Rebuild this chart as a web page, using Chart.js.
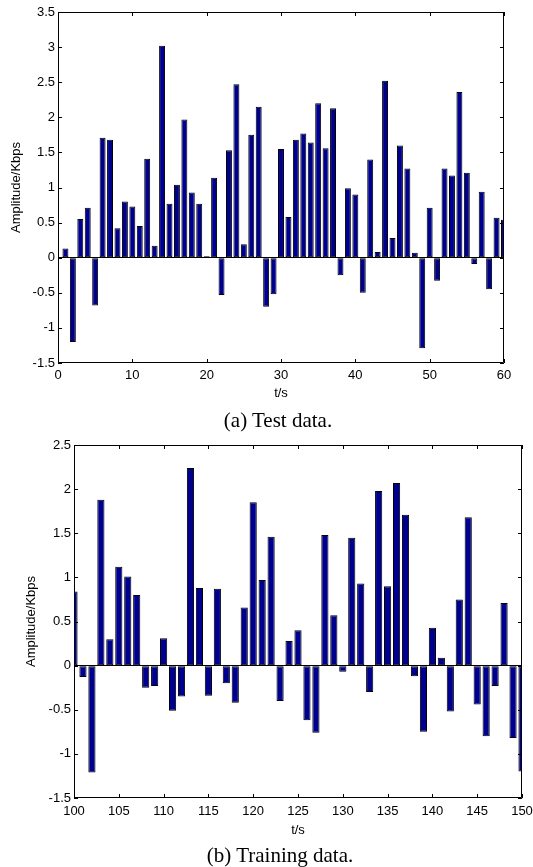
<!DOCTYPE html>
<html>
<head>
<meta charset="utf-8">
<script src="https://cdn.jsdelivr.net/npm/chart.js@4.4.1/dist/chart.umd.min.js"></script>
<style>
  body { margin: 0; background: #fff; width: 533px; height: 867px; position: relative; overflow: hidden; }
  canvas { position: absolute; left: 0; }
  #testChart { top: 0; }
  #trainChart { top: 430px; }
  .caption { position: absolute; font-family: "Liberation Serif", "Times New Roman", serif; font-size: 21px; color: #000; white-space: nowrap; transform: translate(-50%, -50%); }
</style>
</head>
<body>
<canvas id="testChart" width="533" height="410"></canvas>
<canvas id="trainChart" width="533" height="420"></canvas>
<div class="caption" style="left:278px; top:420px;">(a) Test data.</div>
<div class="caption" style="left:280px; top:855px;">(b) Training data.</div>
<script>
// (a) test data, t = 1..60
let testT = [1,2,3,4,5,6,7,8,9,10,11,12,13,14,15,16,17,18,19,20,
             21,22,23,24,25,26,27,28,29,30,31,32,33,34,35,36,37,38,39,40,
             41,42,43,44,45,46,47,48,49,50,51,52,53,54,55,56,57,58,59,60];
let testAmp = [0.13,-1.20,0.55,0.71,-0.68,1.71,1.68,0.42,0.80,0.73,
               0.45,1.41,0.17,3.02,0.77,1.04,1.97,0.93,0.77,0.02,
               1.14,-0.53,1.53,2.47,0.19,1.75,2.15,-0.70,-0.52,1.55,
               0.58,1.68,1.77,1.64,2.20,1.56,2.13,-0.25,0.99,0.90,
               -0.50,1.40,0.08,2.52,0.28,1.60,1.27,0.07,-1.29,0.71,
               -0.33,1.27,1.17,2.36,1.21,-0.09,0.94,-0.45,0.57,0.54];

// (b) training data, t = 100..150
let trainT = [100,101,102,103,104,105,106,107,108,109,110,111,112,113,114,115,116,117,118,119,
              120,121,122,123,124,125,126,127,128,129,130,131,132,133,134,135,136,137,138,139,
              140,141,142,143,144,145,146,147,148,149,150];
let trainAmp = [0.84,-0.13,-1.21,1.88,0.30,1.12,1.01,0.80,-0.25,-0.23,
                0.31,-0.51,-0.35,2.24,0.88,-0.34,0.87,-0.20,-0.42,0.66,
                1.85,0.97,1.46,-0.40,0.28,0.40,-0.62,-0.76,1.48,0.57,
                -0.07,1.45,0.93,-0.30,1.98,0.90,2.07,1.71,-0.12,-0.75,
                0.43,0.09,-0.52,0.75,1.68,-0.44,-0.80,-0.23,0.71,-0.82,-1.20];

Chart.defaults.font.family = '"Liberation Sans", Arial, sans-serif';
Chart.defaults.font.size = 13;
Chart.defaults.color = '#000';

// matlab style box with inward ticks
const boxTicks = {
  id: 'boxTicks',
  afterDatasetsDraw(chart) {
    const ctx = chart.ctx;
    const a = chart.chartArea;
    const x = chart.scales.x, y = chart.scales.y;
    ctx.save();
    ctx.strokeStyle = '#000';
    ctx.lineWidth = 1;
    ctx.beginPath();
    x.ticks.forEach(t => {
      let px = Math.round(x.getPixelForValue(t.value)) + 0.5;
      ctx.moveTo(px, a.top); ctx.lineTo(px, a.top + 4);
      ctx.moveTo(px, a.bottom); ctx.lineTo(px, a.bottom - 4);
    });
    y.ticks.forEach(t => {
      let py = Math.round(y.getPixelForValue(t.value)) + 0.5;
      ctx.moveTo(a.left, py); ctx.lineTo(a.left + 4, py);
      ctx.moveTo(a.right, py); ctx.lineTo(a.right - 4, py);
    });
    ctx.rect(Math.round(a.left) + 0.5, Math.round(a.top) + 0.5,
             Math.round(a.right - a.left) - 1, Math.round(a.bottom - a.top) - 1);
    ctx.stroke();
    ctx.restore();
  }
};

function makeChart(id, ts, amps, cfg) {
  let ctx = document.getElementById(id).getContext('2d');
  return new Chart(ctx, {
    type: 'bar',
    data: {
      datasets: [{
        data: ts.map((t, i) => ({ x: t, y: amps[i] })),
        backgroundColor: '#00008f',
        borderColor: '#000',
        borderWidth: 1,
        borderSkipped: false,
        categoryPercentage: 0.8,
        barPercentage: 1
      }]
    },
    options: {
      responsive: false,
      animation: false,
      layout: { padding: { top: cfg.padTop, right: cfg.padRight, left: 0, bottom: 0 } },
      plugins: { legend: { display: false }, tooltip: { enabled: false } },
      scales: {
        x: {
          type: 'linear',
          offset: false,
          min: cfg.xMin, max: cfg.xMax,
          grid: { display: false, drawTicks: false, offset: false },
          border: { display: false },
          ticks: { stepSize: cfg.xStep, autoSkip: false, maxRotation: 0, padding: cfg.xLabelPad },
          title: { display: true, text: 't/s', padding: { top: 0, bottom: cfg.xTitlePad } },
          afterFit(s) { s.height = cfg.xHeight; s.paddingLeft = 0; s.paddingRight = 0; }
        },
        y: {
          min: cfg.yMin, max: cfg.yMax,
          grid: {
            drawTicks: false,
            color: c => c.tick && c.tick.value === 0 ? '#000' : 'rgba(0,0,0,0)'
          },
          border: { display: false },
          ticks: { stepSize: 0.5, autoSkip: false, padding: 3, callback: v => String(+v.toFixed(1)) },
          title: { display: true, text: 'Amplitude/Kbps', padding: { top: cfg.yTitlePad, bottom: 0 } },
          afterFit(s) { s.width = cfg.yWidth; s.paddingTop = 0; s.paddingBottom = 0; }
        }
      }
    },
    plugins: [boxTicks]
  });
}

makeChart('testChart', testT, testAmp, {
  xMin: 0, xMax: 60, xStep: 10, yMin: -1.5, yMax: 3.5,
  padTop: 12, padRight: 29, yWidth: 58, xHeight: 47,
  xLabelPad: 5, xTitlePad: 9, yTitlePad: 9
});

makeChart('trainChart', trainT, trainAmp, {
  xMin: 100, xMax: 150, xStep: 5, yMin: -1.5, yMax: 2.5,
  padTop: 15, padRight: 11, yWidth: 74, xHeight: 52,
  xLabelPad: 6, xTitlePad: 12, yTitlePad: 24
});
</script>
</body>
</html>
